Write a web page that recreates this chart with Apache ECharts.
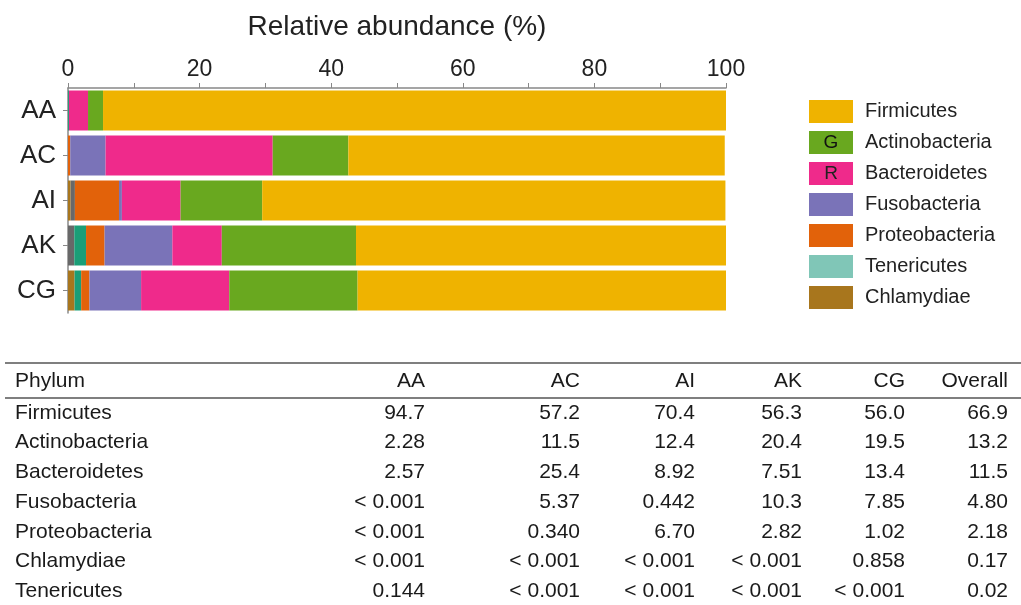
<!DOCTYPE html>
<html>
<head>
<meta charset="utf-8">
<title>Relative abundance</title>
<script src="https://cdn.jsdelivr.net/npm/echarts@6/dist/echarts.min.js"></script>
<style>
  html, body { margin: 0; padding: 0; background: #fff; }
  #main { width: 1021px; height: 605px; }
</style>
</head>
<body>
<div id="main"></div>
<script>
// 样本
var samples = ['AA', 'AC', 'AI', 'AK', 'CG'];
var xTicks = [0, 20, 40, 60, 80, 100];

// 条形图各门的相对丰度 (%)，从左到右堆叠
var chlamydiae = [0, 0, 0.4, 0, 1.0];
var others = [0, 0, 0.65, 0.96, 0];
var tenericutes = [0.144, 0, 0, 1.78, 1.0];
var proteobacteria = [0, 0.34, 6.70, 2.82, 1.26];
var fusobacteria = [0, 5.37, 0.442, 10.3, 7.85];
var bacteroidetes = [2.9, 25.4, 8.92, 7.51, 13.4];
var actinobacteria = [2.28, 11.5, 12.4, 20.4, 19.5];
var firmicutes = [94.7, 57.2, 70.4, 56.3, 56.0];

// 表格
var tableHeader = ['Phylum', 'AA', 'AC', 'AI', 'AK', 'CG', 'Overall'];
var tableRows = [
  ['Firmicutes', '94.7', '57.2', '70.4', '56.3', '56.0', '66.9'],
  ['Actinobacteria', '2.28', '11.5', '12.4', '20.4', '19.5', '13.2'],
  ['Bacteroidetes', '2.57', '25.4', '8.92', '7.51', '13.4', '11.5'],
  ['Fusobacteria', '< 0.001', '5.37', '0.442', '10.3', '7.85', '4.80'],
  ['Proteobacteria', '< 0.001', '0.340', '6.70', '2.82', '1.02', '2.18'],
  ['Chlamydiae', '< 0.001', '< 0.001', '< 0.001', '< 0.001', '0.858', '0.17'],
  ['Tenericutes', '0.144', '< 0.001', '< 0.001', '< 0.001', '< 0.001', '0.02']
];

var FONT = '"Liberation Sans", Arial, sans-serif';
var colors = {
  Chlamydiae: '#a8761d',
  Others: '#686868',
  Tenericutes: '#1b9e77',
  Proteobacteria: '#e2620a',
  Fusobacteria: '#7a73b8',
  Bacteroidetes: '#ef2a8b',
  Actinobacteria: '#69a81f',
  Firmicutes: '#efb300'
};

function bar(name, data) {
  return {
    name: name,
    type: 'bar',
    stack: 'total',
    data: data,
    barWidth: 40,
    itemStyle: { color: colors[name] }
  };
}

// 表格画成 graphic
function buildTable() {
  var els = [];
  var rightEdges = [425, 580, 695, 802, 905, 1008];
  var headY = 381;
  var rowY0 = 413;
  var rowStep = 29.7;
  els.push({ type: 'line', shape: { x1: 5, y1: 363, x2: 1021, y2: 363 }, style: { stroke: '#555', lineWidth: 1.5 } });
  els.push({ type: 'line', shape: { x1: 5, y1: 398, x2: 1021, y2: 398 }, style: { stroke: '#555', lineWidth: 1.5 } });
  var allRows = [tableHeader].concat(tableRows);
  for (var r = 0; r < allRows.length; r++) {
    var y = r === 0 ? headY : rowY0 + (r - 1) * rowStep;
    for (var c = 0; c < allRows[r].length; c++) {
      var left = c === 0;
      els.push({
        type: 'text',
        x: left ? 15 : rightEdges[c - 1],
        y: y,
        style: {
          text: allRows[r][c],
          font: '21px ' + FONT,
          fill: '#1a1a1a',
          align: left ? 'left' : 'right',
          verticalAlign: 'middle'
        }
      });
    }
  }
  // 图例色块里的字母
  els.push({ type: 'text', z: 100, x: 831, y: 143, style: { text: 'G', font: '19px ' + FONT, fill: '#111', align: 'center', verticalAlign: 'middle' } });
  els.push({ type: 'text', z: 100, x: 831, y: 174, style: { text: 'R', font: '19px ' + FONT, fill: '#222', align: 'center', verticalAlign: 'middle' } });
  return els;
}

var chart = echarts.init(document.getElementById('main'));
var option = {
  animation: false,
  textStyle: { fontFamily: FONT },
  grid: { left: 68, top: 88, width: 658, height: 225 },
  legend: {
    orient: 'vertical',
    left: 804,
    top: 95,
    itemWidth: 44,
    itemHeight: 23,
    itemGap: 8,
    icon: 'rect',
    selectedMode: false,
    textStyle: { fontSize: 20, lineHeight: 23, color: '#222', padding: [0, 0, 0, 7] },
    data: [
      'Firmicutes', 'Actinobacteria', 'Bacteroidetes', 'Fusobacteria', 'Proteobacteria',
      { name: 'Tenericutes', itemStyle: { color: '#80c6b7' } },
      'Chlamydiae'
    ]
  },
  xAxis: {
    type: 'value',
    position: 'top',
    min: 0,
    max: 100,
    interval: 10,
    name: 'Relative abundance (%)',
    nameLocation: 'middle',
    nameGap: 47,
    nameTextStyle: { fontSize: 28, color: '#222' },
    axisLine: { show: true, lineStyle: { color: '#888', width: 1.5 } },
    axisTick: { show: true, length: 5, lineStyle: { color: '#888' } },
    axisLabel: {
      fontSize: 23,
      color: '#222',
      margin: 7,
      formatter: function (v) {
        return xTicks.indexOf(v) >= 0 ? String(v) : '';
      }
    },
    splitLine: { show: false }
  },
  yAxis: {
    type: 'category',
    data: samples,
    inverse: true,
    axisLine: { show: true, lineStyle: { color: '#888', width: 1.5 } },
    axisTick: { show: true, alignWithLabel: true, length: 5, lineStyle: { color: '#888' } },
    axisLabel: { fontSize: 26, color: '#222', margin: 12 }
  },
  series: [
    bar('Chlamydiae', chlamydiae),
    bar('Others', others),
    bar('Tenericutes', tenericutes),
    bar('Proteobacteria', proteobacteria),
    bar('Fusobacteria', fusobacteria),
    bar('Bacteroidetes', bacteroidetes),
    bar('Actinobacteria', actinobacteria),
    bar('Firmicutes', firmicutes)
  ],
  graphic: buildTable()
};
chart.setOption(option);
</script>
</body>
</html>
